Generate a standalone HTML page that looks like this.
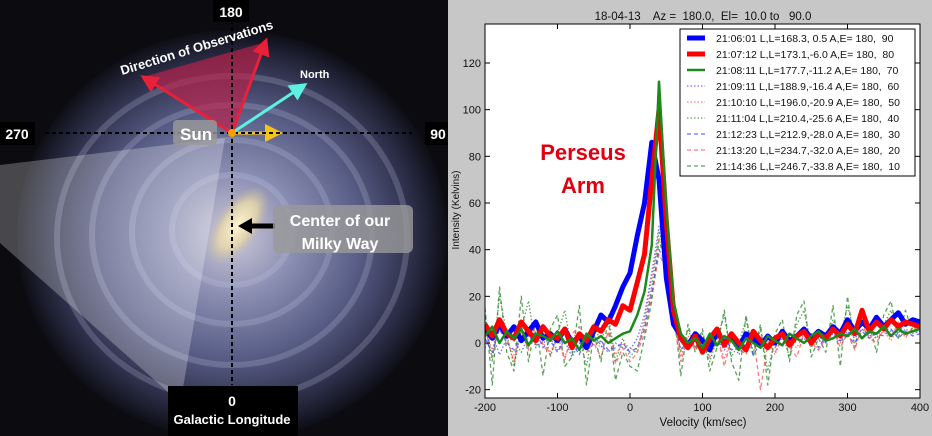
<!DOCTYPE html>
<html><head><meta charset="utf-8"><style>
html,body{margin:0;padding:0;width:932px;height:436px;overflow:hidden;background:#000;font-family:"Liberation Sans",sans-serif}
#wrap{position:relative;width:932px;height:436px}
svg{position:absolute;left:0;top:0}
text{white-space:pre}
</style></head><body>
<div id="wrap">
<svg id="left" width="448" height="436">
<defs>
<radialGradient id="disc" cx="0.5" cy="0.5" r="0.5">
<stop offset="0" stop-color="#cfcada"/><stop offset="0.3" stop-color="#8a8eb2"/><stop offset="0.6" stop-color="#585d86"/><stop offset="0.85" stop-color="#2c2e48"/><stop offset="1" stop-color="#0e0e16"/>
</radialGradient>
<radialGradient id="bulge" cx="0.5" cy="0.5" r="0.5">
<stop offset="0" stop-color="#fff6d0"/><stop offset="0.6" stop-color="#e8d8a8" stop-opacity="0.8"/><stop offset="1" stop-color="#c8b890" stop-opacity="0"/>
</radialGradient>
<marker id="ar" markerWidth="6" markerHeight="6" refX="3" refY="3" orient="auto"><path d="M0,0L6,3L0,6z" fill="#e8203a"/></marker>
<marker id="ac" markerWidth="6" markerHeight="6" refX="3" refY="3" orient="auto"><path d="M0,0L6,3L0,6z" fill="#5ef0e0"/></marker>
<marker id="ay" markerWidth="6" markerHeight="6" refX="3" refY="3" orient="auto"><path d="M0,0L6,3L0,6z" fill="#f5c31c"/></marker>
</defs>
<rect width="448" height="436" fill="#0b0b10"/>
<ellipse cx="232" cy="235" rx="215" ry="205" fill="url(#disc)"/>
<g fill="none" stroke="#c8cce8" stroke-opacity="0.22" stroke-width="6">
<ellipse cx="232" cy="230" rx="60" ry="55"/><ellipse cx="232" cy="232" rx="100" ry="92"/><ellipse cx="232" cy="235" rx="140" ry="130"/><ellipse cx="232" cy="238" rx="175" ry="162"/>
</g>
<ellipse cx="238" cy="225" rx="45" ry="22" transform="rotate(-55 238 225)" fill="url(#bulge)"/>
<polygon points="0,165 225,138 183,388 168,392 0,243" fill="#ffffff" fill-opacity="0.25"/>
<polygon points="232,133 143,77 266,42" fill="#c0204a" fill-opacity="0.65"/>
<line x1="232" y1="133" x2="148" y2="80" stroke="#e8203a" stroke-width="3" marker-end="url(#ar)"/>
<line x1="232" y1="133" x2="264" y2="46" stroke="#e8203a" stroke-width="3" marker-end="url(#ar)"/>
<line x1="232" y1="133" x2="300" y2="88" stroke="#5ef0e0" stroke-width="3" marker-end="url(#ac)"/>
<line x1="232" y1="133" x2="274" y2="133" stroke="#f5c31c" stroke-width="3" marker-end="url(#ay)"/>
<line x1="45" y1="133" x2="412" y2="133" stroke="#000" stroke-width="2" stroke-dasharray="4,3"/>
<line x1="232" y1="20" x2="232" y2="385" stroke="#000" stroke-width="2" stroke-dasharray="4,3"/>
<circle cx="232" cy="133" r="4" fill="#f5a000"/>
<line x1="275" y1="226" x2="248" y2="226" stroke="#000" stroke-width="5"/><path d="M238,226L252,218L252,234z" fill="#000"/>
<text x="122" y="75" font-size="13" font-weight="bold" fill="#fff" transform="rotate(-17 122 75)">Direction of Observations</text>
<text x="300" y="78" font-size="11" font-weight="bold" fill="#fff">North</text>
<rect x="173" y="120" width="44" height="25" rx="4" fill="#9a9a9a" fill-opacity="0.8"/>
<text x="180" y="140" font-size="17" font-weight="bold" fill="#fff">Sun</text>
<rect x="273" y="205" width="140" height="48" rx="6" fill="#9a9a9a" fill-opacity="0.8"/>
<text x="343" y="222" font-size="16" font-weight="bold" fill="#fff" text-anchor="middle"><tspan x="340" dy="4">Center of our</tspan><tspan x="340" dy="23">Milky Way</tspan></text>
<rect x="213" y="0" width="36" height="22" fill="#000"/>
<text x="231" y="17" font-size="14" font-weight="bold" fill="#fff" text-anchor="middle">180</text>
<rect x="0" y="122" width="35" height="23" fill="#000"/>
<text x="17" y="139" font-size="14" font-weight="bold" fill="#fff" text-anchor="middle">270</text>
<rect x="425" y="122" width="23" height="23" fill="#000"/>
<text x="438" y="139" font-size="14" font-weight="bold" fill="#fff" text-anchor="middle">90</text>
<rect x="168" y="386" width="130" height="50" fill="#000"/>
<text x="232" y="406" font-size="14" font-weight="bold" fill="#fff" text-anchor="middle">0</text>
<text x="232" y="424" font-size="13" font-weight="bold" fill="#fff" text-anchor="middle">Galactic Longitude</text>
</svg>
<svg id="chart" width="932" height="436"></svg>
</div>
<script>
const velocities=[-200,-190,-180,-170,-160,-150,-140,-130,-120,-110,-100,-90,-80,-70,-60,-50,-40,-30,-20,-10,0,10,20,30,40,50,60,70,80,90,100,110,120,130,140,150,160,170,180,190,200,210,220,230,240,250,260,270,280,290,300,310,320,330,340,350,360,370,380,390,400];
const s90=[6,2,8,3,7,1,5,9,2,4, 1,6,0,3,-2,5,12,9,16,24, 30,46,60,86,70,28,8,3,-1,4, 1,-3,5,0,3,-2,4,2,-1,3, 0,5,1,3,6,2,5,3,7,4, 10,5,9,6,11,7,10,13,8,10,9];
const s80=[8,3,10,4,2,9,5,1,7,3, 2,6,-2,4,1,7,5,10,8,16, 14,26,38,70,100,52,14,2,-2,3, -4,2,6,-1,4,0,-3,5,1,-2, 2,4,-1,3,5,0,4,2,6,3, 8,4,14,5,9,6,10,7,9,8,7];
const s70=[3,7,0,5,2,6,-1,4,3,1, 5,0,2,-3,4,1,3,0,2,4, 5,12,22,42,112,58,18,4,0,2, -2,4,-1,3,1,-3,2,0,-2,3, 1,-1,4,2,0,3,5,1,2,4, 3,6,2,5,4,7,3,6,4,5,6];
const s60=[-2,4,-5,2,1,-4,3,-1,0,2, -3,1,-6,0,-2,3,-1,-4,0,-2, -3,2,12,30,50,42,15,2,-3,1, -4,0,2,-3,1,-5,0,2,-2,-1, 0,3,-2,1,2,-1,3,0,4,1, 5,2,6,3,4,7,5,3,6,4,5];
const s50=[5,-3,9,1,-5,4,-2,7,0,-4, 3,-6,2,5,-3,1,-2,4,-5,0, -2,-4,10,28,45,38,12,-6,3,-2, 1,-4,3,-7,2,0,-3,4,-2,1, -5,3,0,-2,4,1,-3,2,5,0, 4,-2,6,3,2,5,1,7,3,6,4];
const s40=[12,-8,20,4,-10,6,18,-2,8,-6, 4,14,-4,2,-10,8,0,12,-8,2, -6,-2,8,24,48,36,14,-4,6,-2, 4,-8,2,12,-6,0,10,-4,6,-12, 2,4,-6,8,14,-2,4,0,10,2, 16,4,12,6,2,8,14,4,10,6,8];
const s30=[2,-4,6,0,-3,3,-1,5,-2,1, -4,2,0,-5,3,-1,1,-3,-2,0, -4,-2,6,22,40,34,10,-3,1,-2, 2,-4,0,3,-3,-1,2,-5,0,1, -2,3,-1,2,0,4,-2,3,5,1, 3,0,5,2,4,3,6,2,5,3,4];
const s20=[4,-6,8,2,-8,5,-3,10,-1,-5, 2,-7,4,7,-4,0,-6,5,-9,-2, -8,-4,4,20,38,32,10,-8,2,-3, 0,-6,4,-10,2,-2,-5,3,-20,0, -4,2,-2,-6,4,0,-3,2,6,-2, 4,-3,8,2,0,6,2,9,2,7,5];
const s10=[15,-18,24,-4,-12,20,-8,10,-14,6, 12,-10,-6,16,-18,4,-8,10,-16,-4, -10,-12,2,18,44,34,16,-14,8,-4, 6,-12,-2,14,-8,-16,12,-6,8,-18, 4,10,-8,12,18,-6,2,-4,16,-10, 20,-2,14,8,-4,12,18,2,14,4,10];
const yTicks=[-20,0,20,40,60,80,100,120];
const xTicks=[-200,-100,0,100,200,300,400];
const legendLabels=["21:06:01 L,L=168.3, 0.5 A,E= 180,  90","21:07:12 L,L=173.1,-6.0 A,E= 180,  80","21:08:11 L,L=177.7,-11.2 A,E= 180,  70","21:09:11 L,L=188.9,-16.4 A,E= 180,  60","21:10:10 L,L=196.0,-20.9 A,E= 180,  50","21:11:04 L,L=210.4,-25.6 A,E= 180,  40","21:12:23 L,L=212.9,-28.0 A,E= 180,  30","21:13:20 L,L=234.7,-32.0 A,E= 180,  20","21:14:36 L,L=246.7,-33.8 A,E= 180,  10"];

const NS="http://www.w3.org/2000/svg";
const svg=document.getElementById('chart');
const X0=485,X1=920,Y0=24,Y1=398;
const xs=v=>X0+(v+200)/600*(X1-X0);
const ys=t=>343-t*(343-63)/120;
function mk(tag,at,parent){const e=document.createElementNS(NS,tag);for(const k in at)e.setAttribute(k,at[k]);(parent||svg).appendChild(e);return e;}
let bg=mk('rect',{x:448,y:0,width:484,height:436,fill:'#c7c7c7'});


let pa=mk('rect',{x:X0,y:Y0,width:X1-X0,height:Y1-Y0,fill:'#fff'});


const clip=mk('clipPath',{id:'pc'});mk('rect',{x:X0,y:Y0,width:X1-X0,height:Y1-Y0},clip);
const styles=[
 {d:s10,c:'#2e8b2e',w:1.3,da:'4,3',op:0.8,n:'series-10'},
 {d:s20,c:'#ff5a5a',w:1.3,da:'4,3',op:0.8,n:'series-20'},
 {d:s30,c:'#4a4aff',w:1.3,da:'4,3',op:0.8,n:'series-30'},
 {d:s40,c:'#2e8b2e',w:1.3,da:'1.5,2',op:0.8,n:'series-40'},
 {d:s50,c:'#ff5a5a',w:1.3,da:'1.5,2',op:0.8,n:'series-50'},
 {d:s60,c:'#4a4aff',w:1.3,da:'1.5,2',op:0.8,n:'series-60'},
 {d:s90,c:'#0000ff',w:5,da:'',op:1,n:'series-90'},
 {d:s80,c:'#ff0000',w:5,da:'',op:1,n:'series-80'},
 {d:s70,c:'#1a8a1a',w:2.5,da:'',op:1,n:'series-70'}];
const g=mk('g',{'clip-path':'url(#pc)'});
styles.forEach(s=>{
 const pts=velocities.map((v,i)=>xs(v).toFixed(1)+','+ys(s.d[i]).toFixed(1)).join(' ');
 const p=mk('polyline',{points:pts,fill:'none',stroke:s.c,'stroke-width':s.w,'stroke-dasharray':s.da,opacity:s.op,'stroke-linejoin':'round'},g);
 
 
});
mk('rect',{x:X0,y:Y0,width:X1-X0,height:Y1-Y0,fill:'none',stroke:'#000','stroke-width':1});
yTicks.forEach(t=>{const y=ys(t);
 mk('line',{x1:X0,y1:y,x2:X0+5,y2:y,stroke:'#000'});mk('line',{x1:X1,y1:y,x2:X1-5,y2:y,stroke:'#000'});
 const tx=mk('text',{x:X0-4,y:y+4,'font-size':11,'text-anchor':'end',fill:'#111'});tx.textContent=t;
 
 });
xTicks.forEach(t=>{const x=xs(t);
 mk('line',{x1:x,y1:Y1,x2:x,y2:Y1-5,stroke:'#000'});mk('line',{x1:x,y1:Y0,x2:x,y2:Y0+5,stroke:'#000'});
 const tx=mk('text',{x:x,y:411,'font-size':11,'text-anchor':'middle',fill:'#111'});tx.textContent=t;
 
 });
let t1=mk('text',{x:703,y:20,'font-size':11.5,'text-anchor':'middle',fill:'#111'});t1.textContent='18-04-13    Az =  180.0,  El=  10.0 to   90.0';


let xl=mk('text',{x:703,y:426,'font-size':11.5,'text-anchor':'middle',fill:'#111'});xl.textContent='Velocity (km/sec)';


let yl=mk('text',{x:0,y:0,'font-size':10,'text-anchor':'middle',fill:'#111',transform:'translate(459,210) rotate(-90)'});yl.textContent='Intensity (Kelvins)';


let pt=mk('text',{x:583,y:160,'font-size':22,'font-weight':'bold','text-anchor':'middle',fill:'#e00010'});pt.textContent='Perseus';


let pt2=mk('text',{x:583,y:193,'font-size':22,'font-weight':'bold','text-anchor':'middle',fill:'#e00010'});pt2.textContent='Arm';


let lb=mk('rect',{x:680,y:29,width:235,height:147,fill:'#fff',stroke:'#000','stroke-width':1});


const legOrder=[6,7,8,5,4,3,2,1,0];
legendLabels.forEach((lab,i)=>{const s=styles[legOrder[i]];const y=38+i*16;
 mk('line',{x1:687,y1:y,x2:705,y2:y,stroke:s.c,'stroke-width':s.w,'stroke-dasharray':s.da,opacity:s.op});
 const tx=mk('text',{x:716,y:y+4,'font-size':10.5,fill:'#111'});tx.textContent=lab;
 
 });
</script>
</body></html>
